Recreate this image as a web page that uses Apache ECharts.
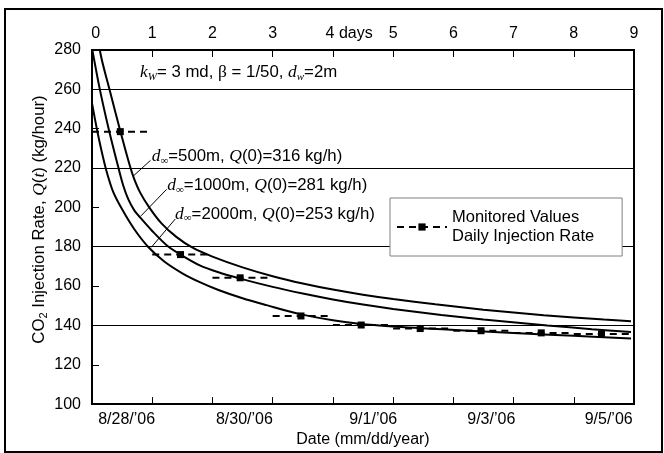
<!DOCTYPE html>
<html><head><meta charset="utf-8">
<script src="https://cdn.jsdelivr.net/npm/echarts@6/dist/echarts.min.js"></script>
<style>html,body{margin:0;padding:0;background:#fff}#c{width:664px;height:453px}</style>
</head><body><div id="c"></div>
<script>
// ---- data ----
const curve500Days   = [0, 0.13, 0.29, 0.46, 0.63, 0.7, 0.8, 0.95, 1.15, 1.4, 1.67, 2.0, 2.5, 3.0, 3.5, 4.0, 4.5, 5.0, 5.7, 6.5, 7.5, 8.5, 8.95];
const curve500Values = [316, 280, 260, 240, 221, 214.5, 207.5, 200, 192, 185, 179.5, 175, 169.5, 165, 161.3, 158.2, 155.6, 153.4, 150.7, 148, 145.2, 143, 142.1];
const curve1000Days   = [0, 0.13, 0.28, 0.44, 0.52, 0.6, 0.7, 0.81, 1.0, 1.25, 1.47, 1.79, 2.1, 2.46, 3.0, 3.5, 4.0, 4.5, 5.0, 5.8, 6.5, 7.56, 8.3, 8.95];
const curve1000Values = [281, 260, 239.5, 220, 211, 204.3, 198.6, 194.5, 188, 180.5, 176, 170.5, 167, 163.8, 159.6, 156.2, 153.2, 150.6, 148.4, 145.3, 143, 140, 138.1, 136.6];
const curve2000Days   = [0, 0.08, 0.16, 0.24, 0.35, 0.5, 0.7, 0.93, 1.2, 1.5, 1.79, 2.1, 2.5, 2.9, 3.47, 4.0, 4.47, 5.0, 5.45, 6.18, 7.0, 8.0, 8.95];
const curve2000Values = [253, 240, 228.5, 218.5, 208, 199, 189, 180, 172.5, 166.5, 162, 158, 153.8, 150.3, 145.6, 142.6, 140.7, 139.4, 138.6, 137.4, 136.1, 134.7, 133.4];
const dailyStartDays = [0, 1, 2, 3, 4, 5, 6, 7, 8];
const dailyEndDays   = [0.95, 1.93, 2.93, 3.95, 4.95, 5.95, 6.95, 7.95, 8.95];
const monitorDays    = [0.47, 1.47, 2.46, 3.47, 4.47, 5.45, 6.46, 7.46, 8.46];
const dailyValues    = [238.5, 176, 164.2, 144.8, 140.2, 138.4, 137.3, 136.2, 135.6];
const topTickLabels  = ['0', '1', '2', '3', '4 days', '5', '6', '7', '8', '9'];
const topLabelDays   = [0.06, 1, 2, 3, 4.27, 5, 6, 7, 8, 9];
const dateLabels     = ["8/28/\u201906", "8/30/\u201906", "9/1/\u201906", "9/3/\u201906", "9/5/\u201906"];
const dateLabelDays  = [0.575, 2.53, 4.67, 6.63, 8.58];
const curveNames = ['d=500m', 'd=1000m', 'd=2000m'];
const dailyName = 'Monitored Values Daily Injection Rate';

// ---- build series data ----
function pairs(xs, ys) { return xs.map((x, i) => [x, ys[i]]); }
const dailyData = [];
for (let i = 0; i < dailyValues.length; i++) {
  dailyData.push({ value: [dailyStartDays[i], dailyValues[i]], symbol: 'none' });
  dailyData.push({ value: [monitorDays[i], dailyValues[i]] });
  dailyData.push({ value: [dailyEndDays[i], dailyValues[i]], symbol: 'none' });
  dailyData.push({ value: [dailyEndDays[i], '-'], symbol: 'none' });
}

const SANS = "'Liberation Sans', Arial, Helvetica, sans-serif";
const SERIF = "'Liberation Serif', 'Times New Roman', serif";
const chart = echarts.init(document.getElementById('c'), null, { renderer: 'canvas' });

const curveLine = { color: '#000', width: 2 };
const option = {
  animation: false,
  backgroundColor: '#fff',
  grid: { left: 92, top: 50, width: 542, height: 356, show: true, borderColor: '#000', borderWidth: 2, backgroundColor: 'transparent' },
  xAxis: [
    { type: 'value', min: 0, max: 9, interval: 1, position: 'bottom',
      name: 'Date (mm/dd/year)', nameLocation: 'middle', nameGap: 24,
      nameTextStyle: { fontFamily: SANS, fontSize: 16, color: '#000' },
      axisLine: { show: false },
      axisTick: { show: true, inside: true, length: 7, lineStyle: { color: '#000', width: 1 } },
      axisLabel: { fontFamily: SANS, fontSize: 16, color: '#000', margin: 7,
        customValues: dateLabelDays,
        formatter: v => { const k = dateLabelDays.indexOf(v); return k >= 0 ? dateLabels[k] : ''; } },
      splitLine: { show: false } },
    { type: 'value', min: 0, max: 9, interval: 1, position: 'top',
      axisLine: { show: false },
      axisTick: { show: true, inside: true, length: 7, lineStyle: { color: '#000', width: 1 } },
      axisLabel: { fontFamily: SANS, fontSize: 16, color: '#000', margin: 8,
        customValues: topLabelDays,
        formatter: v => { const k = topLabelDays.indexOf(v); return k >= 0 ? topTickLabels[k] : ''; } },
      splitLine: { show: false } }
  ],
  yAxis: [
    { type: 'value', min: 100, max: 280, interval: 20,
      axisLine: { show: false },
      axisTick: { show: true, inside: true, length: 7, lineStyle: { color: '#000', width: 1 } },
      axisLabel: { fontFamily: SANS, fontSize: 16, color: '#000', margin: 11 },
      splitLine: { show: false } },
    { type: 'value', min: 100, max: 280, interval: 40, position: 'left',
      axisLine: { show: false }, axisTick: { show: false }, axisLabel: { show: false },
      splitLine: { show: true, lineStyle: { color: '#000', width: 1 } } }
  ],
  legend: {
    show: true, left: 390, top: 198, orient: 'vertical',
    data: [dailyName], selectedMode: false,
    padding: [10, 28, 10, 6], itemWidth: 50, itemHeight: 9,
    backgroundColor: '#fff', borderColor: '#808080', borderWidth: 1, borderRadius: 0,
    textStyle: { fontFamily: SANS, fontSize: 16.5, lineHeight: 19, color: '#000' },
    formatter: () => 'Monitored Values\nDaily Injection Rate'
  },
  series: [
    { name: curveNames[0], type: 'line', data: pairs(curve500Days, curve500Values), smooth: 0.3, showSymbol: false, symbol: 'none', lineStyle: curveLine, clip: true, z: 3 },
    { name: curveNames[1], type: 'line', data: pairs(curve1000Days, curve1000Values), smooth: 0.3, showSymbol: false, symbol: 'none', lineStyle: curveLine, clip: true, z: 3 },
    { name: curveNames[2], type: 'line', data: pairs(curve2000Days, curve2000Values), smooth: 0.3, showSymbol: false, symbol: 'none', lineStyle: curveLine, clip: true, z: 3 },
    { name: dailyName, type: 'line', data: dailyData, connectNulls: false, showAllSymbol: true,
      symbol: 'rect', symbolSize: 7, itemStyle: { color: '#000' },
      lineStyle: { color: '#000', width: 2, type: [7, 5] }, clip: true, z: 4 }
  ]
};
chart.setOption(option);

// ---- annotations (positions in data coordinates) ----
const P = (d, v) => chart.convertToPixel({ seriesIndex: 0 }, [d, v]);
const richStyles = {
  i:   { fontFamily: SERIF, fontStyle: 'italic', fontSize: 17.5, lineHeight: 20 },
  sub: { fontFamily: SERIF, fontStyle: 'italic', fontSize: 11, verticalAlign: 'bottom', lineHeight: 13 },
  inf: { fontFamily: SERIF, fontSize: 11, verticalAlign: 'bottom', lineHeight: 13 },
  g:   { fontFamily: SERIF, fontSize: 17.5, lineHeight: 20 },
  n:   { fontFamily: SANS, fontSize: 16.8, lineHeight: 20 },
  s2:  { fontFamily: SANS, fontSize: 11, verticalAlign: 'bottom', lineHeight: 13 }
};
const annotations = [
  { at: [0.797, 268.4], text: '{i|k}{sub|W}{n|= 3 md, }{g|\u03b2}{n| = 1/50, }{i|d}{sub|w}{n|=2m}' },
  { at: [0.991, 225.9], text: '{i|d}{inf|\u221e}{n|=500m, }{i|Q}{n|(0)=316 kg/h)}' },
  { at: [1.250, 211.2], text: '{i|d}{inf|\u221e}{n|=1000m, }{i|Q}{n|(0)=281 kg/h)}' },
  { at: [1.378, 196.6], text: '{i|d}{inf|\u221e}{n|=2000m, }{i|Q}{n|(0)=253 kg/h)}' }
];
const leaders = [
  [[0.971, 223.9], [0.681, 215.8]],
  [[1.240, 209.2], [0.814, 195.7]],
  [[1.383, 194.1], [0.985, 179.7]]
];
const graphics = [];
graphics.push({ type: 'rect', shape: { x: 5, y: 9, width: 657, height: 443 }, style: { fill: 'none', stroke: '#000', lineWidth: 2 }, z: 100 });
graphics.push({ type: 'text', x: 39, y: 219.5, rotation: Math.PI / 2,
  style: { text: '{n|CO}{s2|2}{n| Injection Rate, }{i|Q}{n|(}{i|t}{n|) (kg/hour)}', textAlign: 'center', textVerticalAlign: 'middle', fill: '#000', rich: richStyles, fontFamily: SANS, fontSize: 16 }, z: 100 });
annotations.forEach(a => {
  const p = P(a.at[0], a.at[1]);
  graphics.push({ type: 'text', x: p[0], y: p[1], style: { text: a.text, textAlign: 'left', textVerticalAlign: 'middle', fill: '#000', rich: richStyles, fontFamily: SANS, fontSize: 16 }, z: 100 });
});
leaders.forEach(l => {
  const a = P(l[0][0], l[0][1]), b = P(l[1][0], l[1][1]);
  graphics.push({ type: 'line', shape: { x1: a[0], y1: a[1], x2: b[0], y2: b[1] }, style: { stroke: '#000', lineWidth: 1 }, z: 100 });
});
chart.setOption({ graphic: graphics });
</script>
</body></html>
